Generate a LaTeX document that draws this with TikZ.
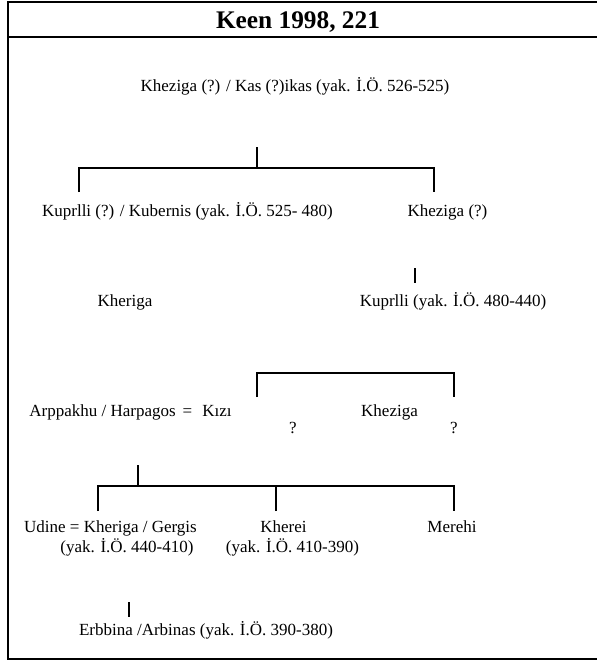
\documentclass[tikz,border=0pt]{standalone}
\usepackage{fontspec}
\setmainfont{Liberation Serif}

\begin{document}
\begin{tikzpicture}[x=0.75pt, y=-0.75pt,
    person/.style={anchor=base, inner sep=0pt, font=\fontsize{12.75}{15}\selectfont},
    frame/.style={line width=1.7pt},
    tree/.style={line width=1.1pt}]
      \useasboundingbox (0,0) rectangle (597,661);
      % frame and title
      \draw[frame] (7,2) -- (597,2);
      \draw[frame] (7,37) -- (597,37);
      \draw[frame] (8,1) -- (8,660);
      \draw[frame] (7,659) -- (597,659);
      \node[person, font=\fontsize{19}{22}\bfseries] (title) at (298,28) {Keen 1998, 221};
      % people
      \node[person] (kas) at (295,91) {Kheziga (?) / Kas (?)ikas (yak. İ.Ö. 526-525)};
      \node[person] (kubernis) at (187.5,216) {Kuprlli (?) / Kubernis (yak. İ.Ö. 525- 480)};
      \node[person] (khezigaA) at (447.5,216) {Kheziga (?)};
      \node[person] (kheriga) at (125,306) {Kheriga};
      \node[person] (kuprlli) at (453,306) {Kuprlli (yak. İ.Ö. 480-440)};
      \node[person] (harpagos) at (130.5,416) {Arppakhu / Harpagos\hspace{0.4em}=\hspace{0.6em}Kızı};
      \node[person] (khezigaB) at (389.5,416) {Kheziga};
      \node[person] (qA) at (293,433) {?};
      \node[person] (qB) at (454,433) {?};
      \node[person] (udine) at (110.5,532) {Udine = Kheriga / Gergis};
      \node[person] (udineyr) at (127,552) {(yak. İ.Ö. 440-410)};
      \node[person] (kherei) at (283.5,532) {Kherei};
      \node[person] (khereiyr) at (292.5,552) {(yak. İ.Ö. 410-390)};
      \node[person] (merehi) at (452,532) {Merehi};
      \node[person] (erbbina) at (206,635) {Erbbina /Arbinas (yak. İ.Ö. 390-380)};
      % brackets
      \coordinate (j1) at (257,147);
      \coordinate (b1) at (257,168);
      \coordinate (l1) at (79,192);
      \coordinate (r1) at (434,192);
      \draw[tree] (j1) -- (b1);
      \draw[tree] (l1) |- (b1) -| (r1);
      \coordinate (j2) at (415,268);
      \coordinate (e2) at (415,283);
      \draw[tree] (j2) -- (e2);
      \coordinate (b3) at (257,373);
      \coordinate (l3) at (257,397);
      \coordinate (r3) at (454,397);
      \draw[tree] (l3) -- (b3) -| (r3);
      \coordinate (j4) at (138,465);
      \coordinate (b4) at (138,486);
      \coordinate (l4) at (98,511);
      \coordinate (m4) at (276,511);
      \coordinate (r4) at (454,511);
      \draw[tree] (j4) -- (b4);
      \draw[tree] (l4) |- (b4) -| (r4);
      \draw[tree] (m4) -- (m4 |- b4);
      \coordinate (j5) at (129,602);
      \coordinate (e5) at (129,617);
      \draw[tree] (j5) -- (e5);
\end{tikzpicture}
\end{document}
